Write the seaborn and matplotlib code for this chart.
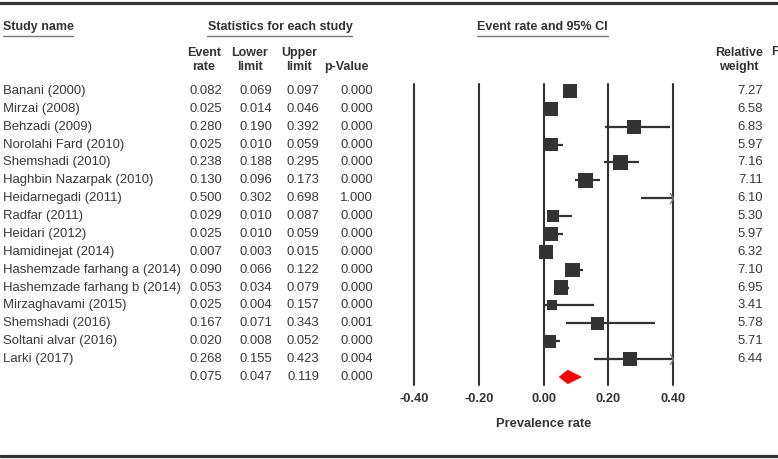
import numpy as np
import pandas as pd
import matplotlib
matplotlib.use("Agg")
import matplotlib.pyplot as plt
import seaborn as sns
from matplotlib.path import Path
from matplotlib.lines import Line2D
from matplotlib import transforms

# Study data
studies = ["Banani (2000)", "Mirzai (2008)", "Behzadi (2009)", "Norolahi Fard (2010)",
           "Shemshadi (2010)", "Haghbin Nazarpak (2010)", "Heidarnegadi (2011)", "Radfar (2011)",
           "Heidari (2012)", "Hamidinejat (2014)", "Hashemzade farhang a (2014)",
           "Hashemzade farhang b (2014)", "Mirzaghavami (2015)", "Shemshadi (2016)",
           "Soltani alvar (2016)", "Larki (2017)"]
event_rate = [0.082, 0.025, 0.280, 0.025, 0.238, 0.130, 0.500, 0.029,
              0.025, 0.007, 0.090, 0.053, 0.025, 0.167, 0.020, 0.268]
lower = [0.069, 0.014, 0.190, 0.010, 0.188, 0.096, 0.302, 0.010,
         0.010, 0.003, 0.066, 0.034, 0.004, 0.071, 0.008, 0.155]
upper = [0.097, 0.046, 0.392, 0.059, 0.295, 0.173, 0.698, 0.087,
         0.059, 0.015, 0.122, 0.079, 0.157, 0.343, 0.052, 0.423]
p_value = [0.000, 0.000, 0.000, 0.000, 0.000, 0.000, 1.000, 0.000,
           0.000, 0.000, 0.000, 0.000, 0.000, 0.001, 0.000, 0.004]
weight = [7.27, 6.58, 6.83, 5.97, 7.16, 7.11, 6.10, 5.30,
          5.97, 6.32, 7.10, 6.95, 3.41, 5.78, 5.71, 6.44]

# Pooled estimate
pooled_rate, pooled_lower, pooled_upper, pooled_p = 0.075, 0.047, 0.119, 0.000

ticks = [-0.40, -0.20, 0.00, 0.20, 0.40]

W, H = 778, 459
dark = "#333333"
txt = "#3a3a3a"

sns.set_theme(style="white")
plt.rcParams['font.family'] = ['Liberation Sans', 'DejaVu Sans']

df = pd.DataFrame({"study": studies, "rate": event_rate, "lower": lower,
                   "upper": upper, "p": p_value, "weight": weight})
df["row"] = np.arange(len(df))
pooled_row = len(df)

fig = plt.figure(figsize=(W / 100, H / 100), dpi=100)
ax = fig.add_axes([414 / W, 1 - 385 / H, 259 / W, 301 / H])

xmin, xmax = ticks[0], ticks[-1]

# reference lines
for t in ticks:
    ax.axvline(t, color=dark, lw=1.5, zorder=1, clip_on=False)

# confidence intervals (clipped at the axis limit)
ci_lo = df["lower"].clip(xmin, xmax)
ci_hi = df["upper"].clip(xmin, xmax)
ax.hlines(df["row"], ci_lo, ci_hi, color=dark, lw=1.6, zorder=2)

# arrows where the interval runs off the scale
chevron = Path([(-0.6, 1), (0, 0), (-0.6, -1)], [Path.MOVETO, Path.LINETO, Path.LINETO])
off = df[df["upper"] > xmax]
ax.plot(np.full(len(off), xmax), off["row"], ls="none", marker=chevron, ms=8,
        mfc="none", mec="#7a7a7a", mew=0.9, zorder=4, clip_on=False)

# squares sized by relative weight
visible = df[df["rate"] <= xmax]
wmin, wmax = min(weight), max(weight)
sns.scatterplot(data=visible, x="rate", y="row", size="weight",
                sizes=(15 * wmin, 15 * wmax), size_norm=(wmin, wmax),
                marker="s", color=dark, linewidth=0, legend=False, ax=ax, zorder=3)

# pooled diamond
h = 0.40
ax.fill([pooled_lower, pooled_rate, pooled_upper, pooled_rate],
        [pooled_row, pooled_row - h, pooled_row, pooled_row + h],
        color="#ff0000", lw=0, zorder=3)

ax.set_xlim(xmin, xmax)
ax.set_ylim(pooled_row + 0.45, -0.39)
ax.set_yticks([])
ax.set_xticks(ticks)
ax.set_xticklabels([f"{t:.2f}" for t in ticks], fontsize=9.3, fontweight="bold", color=dark)
ax.tick_params(axis="x", length=0, pad=6)
ax.set_xlabel("Prevalence rate", fontsize=9.3, fontweight="bold", color=dark, labelpad=9)
ax.set_ylabel("")
sns.despine(ax=ax, left=True, bottom=True)
ax.set_facecolor("none")

# table text
tr = transforms.blended_transform_factory(fig.transFigure, ax.transData)
fs = 9.45
for _, r in df.iterrows():
    y = r["row"]
    ax.text(3 / W, y, r["study"], transform=tr, ha="left", va="center", fontsize=fs, color=txt)
    ax.text(222 / W, y, f"{r['rate']:.3f}", transform=tr, ha="right", va="center", fontsize=fs, color=txt)
    ax.text(272 / W, y, f"{r['lower']:.3f}", transform=tr, ha="right", va="center", fontsize=fs, color=txt)
    ax.text(319 / W, y, f"{r['upper']:.3f}", transform=tr, ha="right", va="center", fontsize=fs, color=txt)
    ax.text(373 / W, y, f"{r['p']:.3f}", transform=tr, ha="right", va="center", fontsize=fs, color=txt)
    ax.text(763 / W, y, f"{r['weight']:.2f}", transform=tr, ha="right", va="center", fontsize=fs, color=txt)

for xp, val in zip([222, 272, 319, 373], [pooled_rate, pooled_lower, pooled_upper, pooled_p]):
    ax.text(xp / W, pooled_row, f"{val:.3f}", transform=tr, ha="right", va="center", fontsize=fs, color=txt)

# headers
def ftext(x, y, s, **kw):
    fig.text(x / W, 1 - y / H, s, fontsize=9, fontweight="bold", color=dark, va="center", **kw)

ftext(3, 27, "Study name", ha="left")
ftext(280, 27, "Statistics for each study", ha="center")
ftext(542, 27, "Event rate and 95% CI", ha="center")
ftext(204, 60, "Event\nrate", ha="center", multialignment="center", linespacing=1.25)
ftext(250, 60, "Lower\nlimit", ha="center", multialignment="center", linespacing=1.25)
ftext(299, 60, "Upper\nlimit", ha="center", multialignment="center", linespacing=1.25)
ftext(346, 67, "p-Value", ha="center")
ftext(739, 60, "Relative\nweight", ha="center", multialignment="center", linespacing=1.25)
ftext(771, 52, "F", ha="left")

def fline(x0, x1, y, lw, color):
    fig.add_artist(Line2D([x0 / W, x1 / W], [1 - y / H, 1 - y / H],
                          transform=fig.transFigure, lw=lw, color=color))

fline(3, 73, 36, 1.0, "#777777")
fline(207, 352, 36, 1.0, "#777777")
fline(477, 608, 36, 1.0, "#777777")
fline(0, 777, 3, 2.3, dark)
fline(0, 778, 455.5, 2.3, dark)

fig.savefig("out.png", dpi=100)
